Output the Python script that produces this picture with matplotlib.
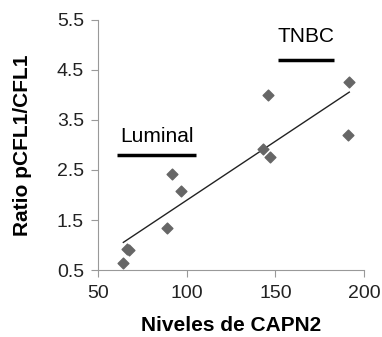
import numpy as np
import matplotlib.pyplot as plt

plt.rcParams['font.family'] = ['Liberation Sans', 'DejaVu Sans']

# datos
capn2 = [64.3, 66.2, 67.7, 88.7, 91.9, 96.6, 143.3, 147.0, 146.0, 191.7, 190.8]
ratio = [0.64, 0.93, 0.90, 1.35, 2.42, 2.08, 2.91, 2.76, 3.99, 4.25, 3.19]
xticks = [50, 100, 150, 200]
yticks = [0.5, 1.5, 2.5, 3.5, 4.5, 5.5]

fig = plt.figure(figsize=(3.82, 3.37), dpi=100)
ax = fig.add_axes([0.2565, 0.1988, 0.6964, 0.7419])

ax.scatter(capn2, ratio, marker='D', s=30, color='#666666', zorder=3)

# linea de tendencia
m, b = np.polyfit(capn2, ratio, 1)
xs = np.array([min(capn2), max(capn2)])
ax.plot(xs, m * xs + b, color='#222222', lw=1)

# grupos
ax.plot([61, 105.5], [2.79, 2.79], color='black', lw=2.5, solid_capstyle='butt')
ax.text(62.3, 3.16, 'Luminal', fontsize=15, va='center', ha='left')
ax.plot([151.3, 183.3], [4.69, 4.69], color='black', lw=2.5, solid_capstyle='butt')
ax.text(151.5, 5.17, 'TNBC', fontsize=15, va='center', ha='left')

ax.set_xlim(50, 200)
ax.set_ylim(0.5, 5.5)
ax.set_xticks(xticks)
ax.set_yticks(yticks)
ax.set_yticklabels(['%.1f' % v for v in yticks])
ax.tick_params(labelsize=14, color='#999999', length=5, labelcolor='#222222')
ax.tick_params(axis='x', pad=6)
ax.tick_params(axis='y', pad=5)
for s in ['top', 'right']:
    ax.spines[s].set_visible(False)
for s in ['left', 'bottom']:
    ax.spines[s].set_color('#999999')

ax.set_xlabel('Niveles de CAPN2', fontsize=15, fontweight='bold', labelpad=10)
ax.set_ylabel('Ratio pCFL1/CFL1', fontsize=15, fontweight='bold', labelpad=18)

fig.savefig('out.png', dpi=100)
